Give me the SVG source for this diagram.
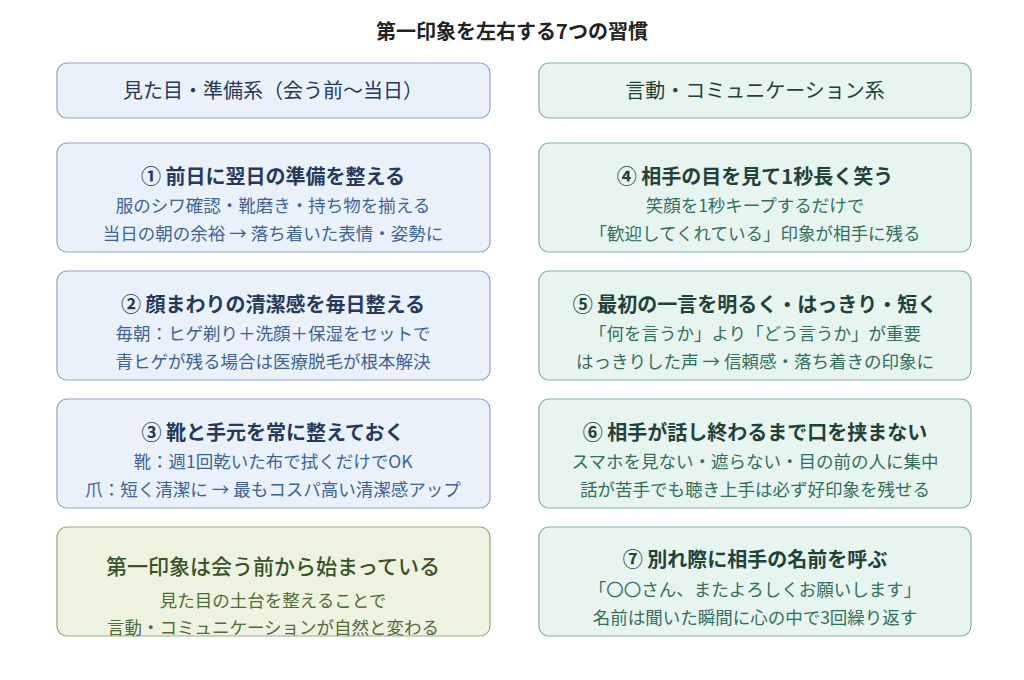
<svg xmlns="http://www.w3.org/2000/svg" width="1024" height="680" viewBox="0 0 1024 680">
<style>
text{font-family:"Noto Sans CJK JP","Noto Sans",sans-serif;text-anchor:middle}
.b{fill:#eaf1fb;stroke:#8ea6c9;stroke-width:1.2}
.g{fill:#e8f4ef;stroke:#86b3a2;stroke-width:1.2}
.y{fill:#eef3e1;stroke:#95ad7c;stroke-width:1.2}
.t{font-size:20px;font-weight:bold}
.s{font-size:17.5px}
.bt{fill:#243a5c}.bs{fill:#3d6499}
.gt{fill:#1f4338}.gs{fill:#32705e}
.yt{fill:#3a5228}.ys{fill:#4e6b38}
.h{font-size:20px}
</style>
<text x="512" y="39" style="font-size:20px;font-weight:bold;fill:#222">第一印象を左右する7つの習慣</text>
<g id="hdr-left"><rect class="b" x="57" y="63" width="433" height="55" rx="10"/><text class="h bt" x="273" y="98">見た目・準備系（会う前〜当日）</text></g>
<g id="hdr-right"><rect class="g" x="539" y="63" width="432" height="55" rx="10"/><text class="h gt" x="755" y="98">言動・コミュニケーション系</text></g>
<g id="n1"><rect class="b" x="57" y="143" width="433" height="109" rx="10"/><text class="t bt" x="273" y="184">① 前日に翌日の準備を整える</text><text class="s bs" x="273" y="212">服のシワ確認・靴磨き・持ち物を揃える</text><text class="s bs" x="273" y="240">当日の朝の余裕 → 落ち着いた表情・姿勢に</text></g>
<g id="n2"><rect class="b" x="57" y="271" width="433" height="109" rx="10"/><text class="t bt" x="273" y="312">② 顔まわりの清潔感を毎日整える</text><text class="s bs" x="273" y="340">毎朝：ヒゲ剃り＋洗顔＋保湿をセットで</text><text class="s bs" x="273" y="368">青ヒゲが残る場合は医療脱毛が根本解決</text></g>
<g id="n3"><rect class="b" x="57" y="399" width="433" height="109" rx="10"/><text class="t bt" x="273" y="440">③ 靴と手元を常に整えておく</text><text class="s bs" x="273" y="468">靴：週1回乾いた布で拭くだけでOK</text><text class="s bs" x="273" y="496">爪：短く清潔に → 最もコスパ高い清潔感アップ</text></g>
<g id="n-sum"><rect class="y" x="57" y="527" width="433" height="109" rx="10"/><text class="t yt" x="273" y="574" style="font-weight:500;font-size:21px">第一印象は会う前から始まっている</text><text class="s ys" x="273" y="607">見た目の土台を整えることで</text><text class="s ys" x="273" y="634">言動・コミュニケーションが自然と変わる</text></g>
<g id="n4"><rect class="g" x="539" y="143" width="432" height="109" rx="10"/><text class="t gt" x="755" y="184">④ 相手の目を見て1秒長く笑う</text><text class="s gs" x="755" y="212">笑顔を1秒キープするだけで</text><text class="s gs" x="755" y="240">「歓迎してくれている」印象が相手に残る</text></g>
<g id="n5"><rect class="g" x="539" y="271" width="432" height="109" rx="10"/><text class="t gt" x="755" y="312">⑤ 最初の一言を明るく・はっきり・短く</text><text class="s gs" x="755" y="340">「何を言うか」より「どう言うか」が重要</text><text class="s gs" x="755" y="368">はっきりした声 → 信頼感・落ち着きの印象に</text></g>
<g id="n6"><rect class="g" x="539" y="399" width="432" height="109" rx="10"/><text class="t gt" x="755" y="440">⑥ 相手が話し終わるまで口を挟まない</text><text class="s gs" x="755" y="468">スマホを見ない・遮らない・目の前の人に集中</text><text class="s gs" x="755" y="496">話が苦手でも聴き上手は必ず好印象を残せる</text></g>
<g id="n7"><rect class="g" x="539" y="527" width="432" height="109" rx="10"/><text class="t gt" x="755" y="567">⑦ 別れ際に相手の名前を呼ぶ</text><text class="s gs" x="755" y="596">「〇〇さん、またよろしくお願いします」</text><text class="s gs" x="755" y="624">名前は聞いた瞬間に心の中で3回繰り返す</text></g>
<g id="connectors"/>
</svg>
